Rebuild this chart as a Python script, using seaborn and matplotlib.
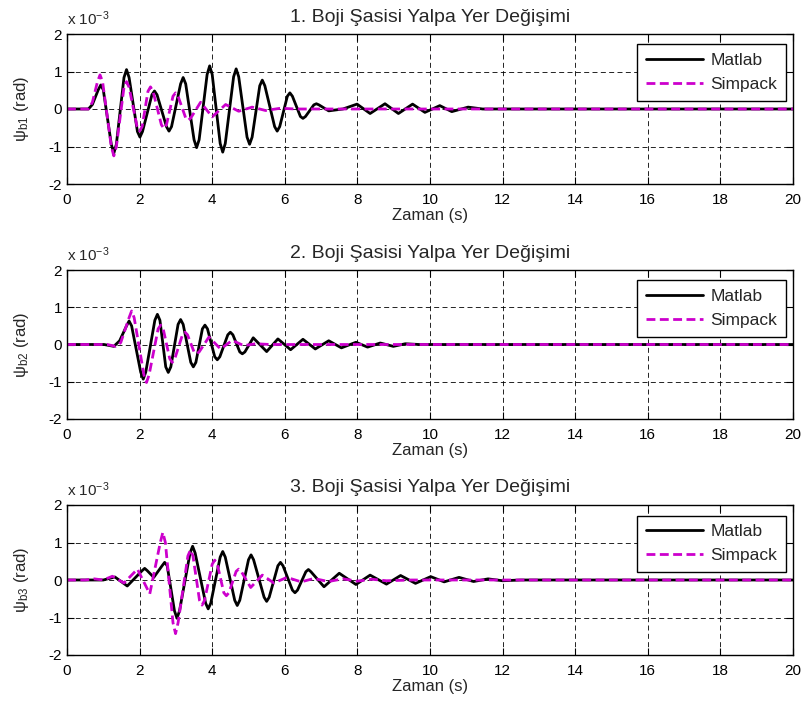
import matplotlib
matplotlib.use("Agg")
import matplotlib.pyplot as plt
import seaborn as sns

# Bogie frame yaw displacement, values in units of 1e-3 rad, time in s.
# Panel 1
t_m1 = [0, 0.59, 0.70, 0.86, 0.93, 1.00, 1.22, 1.29, 1.36, 1.57, 1.64, 1.71, 1.94, 2.01, 2.08,
        2.34, 2.41, 2.48, 2.74, 2.81, 2.88, 3.13, 3.20, 3.27, 3.50, 3.57, 3.64, 3.86, 3.93,
        4.00, 4.22, 4.29, 4.36, 4.59, 4.66, 4.73, 4.96, 5.03, 5.10, 5.31, 5.38, 5.45, 5.72,
        5.79, 5.86, 6.07, 6.14, 6.21, 6.43, 6.50, 6.57, 6.80, 6.87, 6.94, 7.21, 7.60, 7.99,
        8.35, 8.76, 9.13, 9.52, 9.86, 10.27, 10.60, 11.05, 11.45, 20]
v_m1 = [0, 0, 0.12, 0.51, 0.64, 0.51, -0.94, -1.18, -0.94, 0.84, 1.05, 0.84, -0.60, -0.75, -0.60,
        0.38, 0.48, 0.38, -0.47, -0.59, -0.47, 0.67, 0.84, 0.67, -0.82, -1.03, -0.82, 0.92, 1.15,
        0.92, -0.92, -1.15, -0.92, 0.86, 1.07, 0.86, -0.75, -0.94, -0.75, 0.62, 0.77, 0.62, -0.47,
        -0.59, -0.47, 0.34, 0.43, 0.34, -0.20, -0.25, -0.20, 0.11, 0.14, 0.11, -0.05, 0.0, 0.13,
        -0.12, 0.14, -0.12, 0.13, -0.09, 0.09, -0.07, 0.05, 0, 0]
t_s1 = [0, 0.59, 0.70, 0.84, 0.91, 0.98, 1.22, 1.29, 1.36, 1.57, 1.64, 1.71, 1.93, 2.00, 2.07,
        2.23, 2.30, 2.37, 2.60, 2.67, 2.74, 2.92, 2.99, 3.06, 3.27, 3.34, 3.41, 3.68, 4.00,
        4.37, 4.73, 5.10, 5.47, 5.88, 6.30, 20]
v_s1 = [0, 0, 0.18, 0.73, 0.91, 0.73, -1.00, -1.25, -1.00, 0.58, 0.73, 0.58, -0.47, -0.59, -0.47,
        0.47, 0.59, 0.47, -0.42, -0.52, -0.42, 0.34, 0.43, 0.34, -0.24, -0.30, -0.24, 0.18, -0.21,
        0.12, -0.06, 0.05, -0.04, 0.02, 0, 0]

# Panel 2
t_m2 = [0, 1.02, 1.29, 1.45, 1.64, 1.71, 1.78, 2.03, 2.10, 2.17, 2.42, 2.49, 2.56, 2.72, 2.79,
        2.86, 3.06, 3.13, 3.20, 3.41, 3.48, 3.55, 3.73, 3.80, 3.87, 4.07, 4.14, 4.21, 4.43,
        4.50, 4.57, 4.76, 4.83, 4.90, 5.13, 5.50, 5.81, 6.16, 6.50, 6.84, 7.21, 7.56, 7.96,
        8.28, 8.63, 8.99, 9.32, 9.70, 20]
v_m2 = [0, 0, -0.05, 0.10, 0.50, 0.63, 0.50, -0.74, -0.93, -0.74, 0.65, 0.81, 0.65, -0.60, -0.75,
        -0.60, 0.54, 0.67, 0.54, -0.48, -0.60, -0.48, 0.42, 0.52, 0.42, -0.33, -0.41, -0.33, 0.26,
        0.33, 0.26, -0.20, -0.25, -0.20, 0.18, -0.19, 0.15, -0.14, 0.14, -0.12, 0.10, -0.09, 0.06,
        -0.07, 0.04, -0.05, 0.02, 0, 0]
t_s2 = [0, 1.11, 1.34, 1.48, 1.71, 1.78, 1.85, 2.12, 2.19, 2.26, 2.51, 2.58, 2.65, 2.83, 2.90,
        2.97, 3.18, 3.25, 3.32, 3.50, 3.57, 3.64, 3.91, 4.23, 4.55, 4.87, 5.20, 5.60, 20]
v_s2 = [0, 0, -0.05, 0.05, 0.72, 0.90, 0.72, -0.82, -1.02, -0.82, 0.42, 0.52, 0.42, -0.38, -0.48,
        -0.38, 0.26, 0.33, 0.26, -0.20, -0.25, -0.20, 0.20, -0.12, 0.11, -0.03, 0.02, 0, 0]

# Panel 3
t_m3 = [0, 1.00, 1.32, 1.66, 2.07, 2.14, 2.21, 2.39, 2.62, 2.69, 2.76, 2.96, 3.03, 3.10, 3.39,
        3.46, 3.53, 3.82, 3.89, 3.96, 4.22, 4.29, 4.36, 4.62, 4.69, 4.76, 5.00, 5.07, 5.14,
        5.43, 5.50, 5.57, 5.81, 5.88, 5.95, 6.21, 6.28, 6.35, 6.58, 6.65, 6.72, 7.08, 7.50,
        7.96, 8.35, 8.80, 9.19, 9.60, 10.02, 10.39, 10.80, 11.20, 11.60, 12.00, 12.50, 20]
v_m3 = [0, 0, 0.08, -0.16, 0.25, 0.31, 0.25, 0.07, 0.38, 0.47, 0.38, -0.82, -1.02, -0.82, 0.72,
        0.90, 0.72, -0.62, -0.77, -0.62, 0.61, 0.76, 0.61, -0.54, -0.68, -0.54, 0.54, 0.67, 0.54,
        -0.46, -0.57, -0.46, 0.38, 0.47, 0.38, -0.27, -0.34, -0.27, 0.22, 0.28, 0.22, -0.18, 0.18,
        -0.12, 0.13, -0.11, 0.12, -0.09, 0.09, -0.05, 0.07, -0.04, 0.03, -0.02, 0, 0]
t_s3 = [0, 0.50, 0.75, 1.00, 1.25, 1.57, 1.94, 2.28, 2.57, 2.64, 2.71, 2.92, 2.99, 3.06, 3.33,
        3.40, 3.47, 3.65, 3.72, 3.79, 4.00, 4.07, 4.14, 4.32, 4.39, 4.46, 4.66, 4.73, 4.80,
        5.06, 5.38, 5.70, 6.06, 6.45, 6.80, 7.20, 7.60, 8.00, 8.40, 8.80, 9.50, 20]
v_s3 = [0, 0, 0.03, 0.0, 0.10, -0.08, 0.29, -0.37, 1.00, 1.27, 1.00, -1.14, -1.43, -1.14, 0.64,
        0.80, 0.64, -0.54, -0.67, -0.54, 0.42, 0.53, 0.42, -0.34, -0.42, -0.34, 0.23, 0.29, 0.23,
        -0.20, 0.13, -0.08, 0.07, -0.05, 0.04, -0.04, 0.03, -0.03, 0.02, -0.02, 0, 0]

titles = ["1. Boji Şasisi Yalpa Yer Değişimi",
          "2. Boji Şasisi Yalpa Yer Değişimi",
          "3. Boji Şasisi Yalpa Yer Değişimi"]
ylabels = ["b1", "b2", "b3"]
x_ticks = [0, 2, 4, 6, 8, 10, 12, 14, 16, 18, 20]
y_ticks = [-2, -1, 0, 1, 2]
series_names = ["Matlab", "Simpack"]

sns.set_theme(style="white")
plt.rcParams["font.family"] = ["Liberation Sans", "DejaVu Sans"]
plt.rcParams["mathtext.fontset"] = "custom"
plt.rcParams["mathtext.rm"] = "Liberation Sans"
plt.rcParams["mathtext.it"] = "Liberation Sans"

fig = plt.figure(figsize=(8.07, 7.12), dpi=100)
W, H = 807, 712
left_px, right_px = 67, 793
panel_px = [(34, 184), (270, 419), (505, 655)]

matlab = [(t_m1, v_m1), (t_m2, v_m2), (t_m3, v_m3)]
simpack = [(t_s1, v_s1), (t_s2, v_s2), (t_s3, v_s3)]

for i, (top, bot) in enumerate(panel_px):
    ax = fig.add_axes([left_px / W, 1 - bot / H, (right_px - left_px) / W, (bot - top) / H])
    tm, vm = matlab[i]
    ts, vs = simpack[i]
    sns.lineplot(x=tm, y=vm, ax=ax, color="black", linewidth=2.0, label=series_names[0],
                 estimator=None, sort=False, solid_joinstyle="round")
    sns.lineplot(x=ts, y=vs, ax=ax, color="#CC00CC", linewidth=2.0, label=series_names[1],
                 estimator=None, sort=False, linestyle=(0, (3.2, 1.6)),
                 dash_joinstyle="round")
    ax.set_xlim(0, 20)
    ax.set_ylim(-2, 2)
    ax.set_xticks(x_ticks)
    ax.set_yticks(y_ticks)
    ax.set_xticklabels([str(v) for v in x_ticks])
    ax.set_yticklabels([str(v) for v in y_ticks])
    ax.grid(True, color="black", linestyle=(0, (6, 4)), linewidth=0.6)
    ax.set_axisbelow(True)
    for sp in ax.spines.values():
        sp.set_visible(True)
        sp.set_color("black")
        sp.set_linewidth(1.0)
    ax.tick_params(direction="in", length=5, width=0.8, top=True, right=True,
                   bottom=True, left=True, labelsize=11, colors="black")
    ax.tick_params(axis="x", pad=6.5)
    ax.tick_params(axis="y", pad=3.5)
    ax.set_title(titles[i], fontsize=14, pad=9)
    ax.set_xlabel("Zaman (s)", fontsize=12)
    ax.xaxis.set_label_coords(0.5, -0.16)
    ax.set_ylabel("ψ$_{\\mathrm{" + ylabels[i] + "}}$ (rad)", fontsize=12)
    ax.yaxis.label.set_va("center")
    ax.yaxis.set_label_coords(-0.062, 0.5)
    ax.text(0.0, 1.06, "x 10$^{\\mathrm{-3}}$", transform=ax.transAxes,
            ha="left", va="baseline", fontsize=11)
    leg = ax.legend(loc="upper right", bbox_to_anchor=(0.99, 0.93), borderaxespad=0,
                    fontsize=12.5, frameon=True, fancybox=False, framealpha=1,
                    edgecolor="black", handlelength=3.3, handletextpad=0.4,
                    borderpad=0.5, labelspacing=0.5)
    leg.get_frame().set_linewidth(1.0)

fig.savefig("out.png", dpi=100, facecolor="white")
